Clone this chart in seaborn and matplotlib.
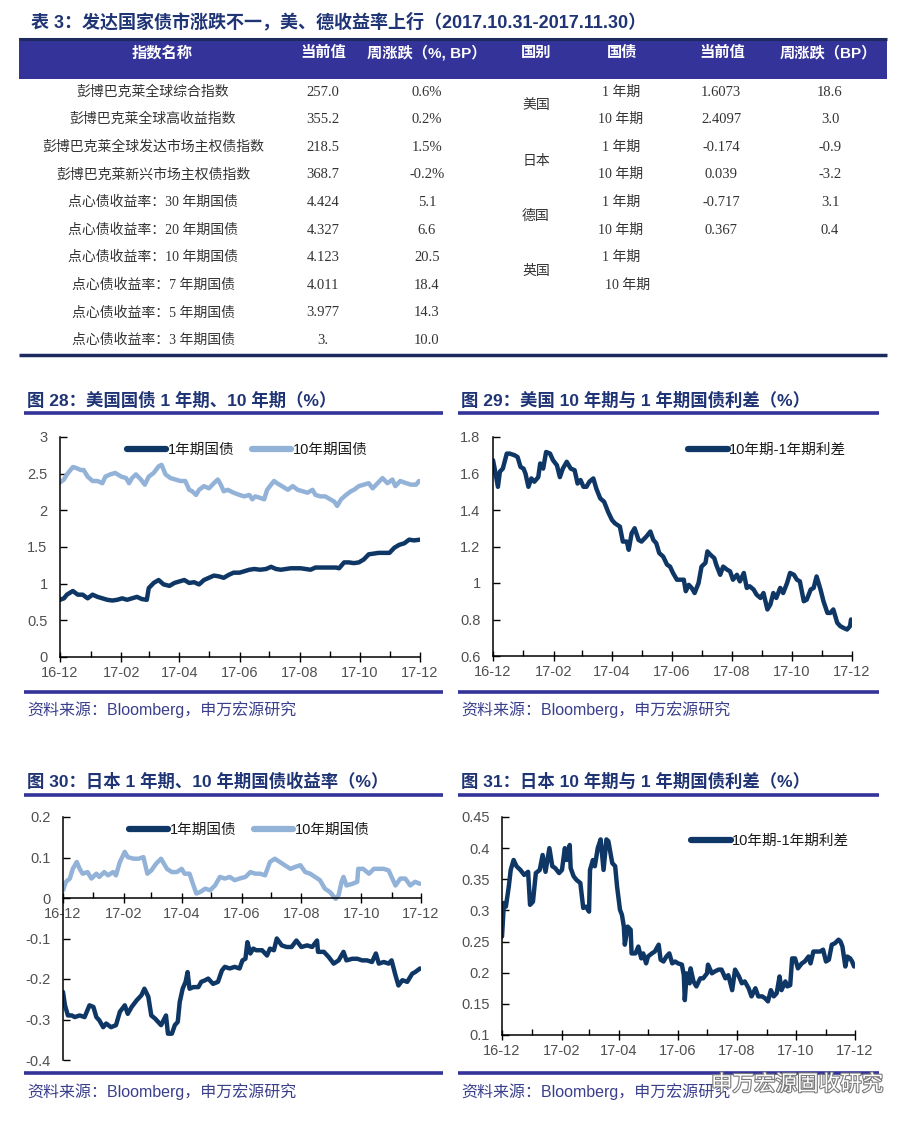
import numpy as np
import pandas as pd
import matplotlib
matplotlib.use('Agg')
import matplotlib.pyplot as plt
import matplotlib.dates as mdates
import matplotlib.patheffects as pe
from matplotlib.patches import Rectangle
from matplotlib.ticker import FuncFormatter, MultipleLocator
import seaborn as sns

# ---------------- table data ----------------
table_title = '表 3：发达国家债市涨跌不一，美、德收益率上行（2017.10.31-2017.11.30）'
left_headers = ['指数名称', '当前值', '周涨跌（%, BP）']
right_headers = ['国别', '国债', '当前值', '周涨跌（BP）']
index_names = ['彭博巴克莱全球综合指数', '彭博巴克莱全球高收益指数', '彭博巴克莱全球发达市场主权债指数',
               '彭博巴克莱新兴市场主权债指数', '点心债收益率：30 年期国债', '点心债收益率：20 年期国债',
               '点心债收益率：10 年期国债', '点心债收益率：7 年期国债', '点心债收益率：5 年期国债',
               '点心债收益率：3 年期国债']
index_values = ['257.0', '355.2', '218.5', '368.7', '4.424', '4.327', '4.123', '4.011', '3.977', '3.']
index_changes = ['0.6%', '0.2%', '1.5%', '-0.2%', '5.1', '6.6', '20.5', '18.4', '14.3', '10.0']
countries = ['美国', '日本', '德国', '英国']
tenors = ['1 年期', '10 年期']
bond_values = ['1.6073', '2.4097', '-0.174', '0.039', '-0.717', '0.367', '', '']
bond_changes = ['18.6', '3.0', '-0.9', '-3.2', '3.1', '0.4', '', '']

# ---------------- chart data (days since 2016-12-01) ----------------
us_1y_days = [0,4,7,13,18,23,28,33,38,43,48,53,58,63,68,73,78,83,88,90,95,100,105,111,116,121,126,131,136,141,
              146,151,156,161,166,171,176,182,187,192,197,203,209,214,219,224,229,234,239,244,249,254,259,264,269,
              274,280,283,288,293,298,303,308,313,318,323,329,334,339,344,349,354,359,365]
us_1y = [0.78,0.80,0.85,0.90,0.85,0.85,0.80,0.85,0.82,0.80,0.78,0.77,0.78,0.80,0.78,0.80,0.82,0.79,0.78,0.94,
         1.01,1.05,0.99,0.97,1.01,1.03,1.05,1.01,1.02,0.99,1.05,1.08,1.11,1.10,1.08,1.12,1.15,1.15,1.17,1.19,
         1.20,1.19,1.20,1.23,1.20,1.19,1.20,1.21,1.21,1.21,1.20,1.19,1.22,1.22,1.22,1.22,1.22,1.21,1.29,1.29,
         1.28,1.29,1.33,1.40,1.41,1.42,1.42,1.42,1.49,1.53,1.55,1.60,1.59,1.60]
us_10y_days = [0,4,7,13,16,21,24,28,33,38,43,46,51,56,62,67,70,73,77,82,86,90,95,100,103,107,112,117,122,127,
               131,134,138,141,146,151,156,160,163,166,170,173,176,182,187,192,195,198,203,207,210,214,217,220,
               225,231,236,241,246,251,256,259,264,269,274,278,281,285,290,295,298,303,308,313,317,322,327,332,
               337,340,345,351,356,361,364]
us_10y = [2.38,2.42,2.49,2.59,2.58,2.55,2.55,2.46,2.40,2.40,2.37,2.46,2.49,2.51,2.46,2.44,2.37,2.44,2.49,2.42,
          2.35,2.46,2.51,2.60,2.62,2.49,2.44,2.42,2.40,2.40,2.28,2.26,2.21,2.28,2.33,2.30,2.37,2.42,2.35,2.26,
          2.28,2.26,2.24,2.21,2.19,2.21,2.15,2.19,2.17,2.15,2.28,2.35,2.40,2.37,2.33,2.28,2.33,2.28,2.26,2.24,
          2.28,2.21,2.19,2.19,2.15,2.12,2.06,2.15,2.21,2.26,2.28,2.33,2.35,2.37,2.30,2.37,2.44,2.37,2.42,2.33,
          2.40,2.37,2.35,2.35,2.40]
us_spread_days = [0,2,5,7,10,14,17,22,25,28,31,33,36,39,42,46,48,51,54,58,61,65,68,71,75,79,83,86,89,92,
                  95,98,102,105,109,113,117,121,124,129,132,136,138,141,144,148,151,156,160,163,166,169,173,177,
                  180,183,187,190,194,196,199,202,205,209,212,216,218,221,225,227,231,234,238,241,244,248,251,
                  255,258,261,265,268,272,275,279,282,285,288,292,295,299,302,306,309,312,316,319,323,326,329,
                  333,336,340,343,346,350,353,356,360,363,364]
us_spread = [1.673,1.618,1.527,1.61,1.627,1.709,1.709,1.70,1.69,1.636,1.627,1.60,1.527,1.573,1.555,1.58,1.655,
             1.627,1.718,1.709,1.673,1.645,1.58,1.627,1.664,1.627,1.618,1.545,1.564,1.527,1.527,1.555,1.573,
             1.518,1.464,1.445,1.39,1.345,1.327,1.309,1.227,1.227,1.182,1.273,1.30,1.236,1.227,1.255,1.282,
             1.236,1.218,1.164,1.145,1.10,1.09,1.055,1.018,1.018,1.018,0.955,0.99,0.973,0.945,1.0,1.09,1.11,
             1.173,1.155,1.136,1.10,1.045,1.09,1.073,1.064,1.018,1.045,1.009,1.055,0.973,0.982,0.964,0.936,
             0.918,0.945,0.855,0.882,0.945,0.918,0.973,0.945,1.0,1.055,1.045,1.018,1.009,0.90,0.909,0.964,
             0.973,1.036,0.964,0.90,0.836,0.836,0.855,0.782,0.764,0.755,0.745,0.764,0.80]
jp_10y_days = [0,3,7,10,14,17,20,25,29,34,37,42,46,51,54,58,63,66,72,77,82,86,90,95,100,106,111,116,121,124,
               129,133,136,140,145,150,155,160,165,170,175,180,186,191,196,201,206,211,216,221,226,232,237,242,
               247,252,257,262,267,272,278,281,284,286,289,295,300,301,306,312,317,322,327,332,335,339,344,349,
               354,359,364]
jp_10y = [0.019,0.04,0.048,0.072,0.089,0.072,0.06,0.064,0.048,0.06,0.052,0.064,0.056,0.064,0.056,0.089,0.114,
          0.101,0.097,0.097,0.101,0.06,0.068,0.085,0.097,0.072,0.064,0.064,0.072,0.06,0.06,0.031,0.011,0.015,
          0.023,0.019,0.031,0.052,0.048,0.052,0.044,0.048,0.052,0.064,0.06,0.06,0.056,0.089,0.097,0.089,0.081,
          0.072,0.077,0.081,0.064,0.06,0.052,0.044,0.023,0.015,-0.002,0.007,0.04,0.052,0.031,0.035,0.04,0.072,
          0.072,0.06,0.072,0.072,0.072,0.068,0.052,0.031,0.048,0.048,0.031,0.04,0.035]
jp_1y_days = [0,2,5,9,12,17,22,27,31,34,37,41,44,49,54,58,63,66,70,75,80,83,87,90,94,97,100,105,107,111,
              114,117,119,122,125,127,129,133,138,141,145,148,153,158,162,165,170,175,180,183,186,188,191,194,
              197,203,208,211,215,218,223,228,233,238,243,249,254,259,260,266,271,276,281,286,289,295,300,305,
              310,315,319,322,327,332,335,339,342,346,351,356,359,364]
jp_1y = [-0.232,-0.265,-0.29,-0.29,-0.294,-0.29,-0.294,-0.265,-0.269,-0.294,-0.302,-0.319,-0.31,-0.319,-0.314,
         -0.281,-0.265,-0.286,-0.269,-0.253,-0.24,-0.224,-0.244,-0.29,-0.298,-0.306,-0.314,-0.29,-0.335,-0.335,
         -0.314,-0.306,-0.257,-0.224,-0.207,-0.183,-0.224,-0.22,-0.22,-0.207,-0.203,-0.199,-0.212,-0.207,-0.179,
         -0.17,-0.174,-0.17,-0.174,-0.154,-0.15,-0.109,-0.137,-0.125,-0.129,-0.129,-0.142,-0.125,-0.129,-0.10,
         -0.117,-0.121,-0.121,-0.105,-0.121,-0.117,-0.121,-0.105,-0.133,-0.133,-0.146,-0.162,-0.154,-0.133,
         -0.154,-0.15,-0.15,-0.154,-0.154,-0.158,-0.137,-0.162,-0.158,-0.162,-0.154,-0.191,-0.216,-0.203,-0.207,
         -0.187,-0.183,-0.174]
jp_spread_days = [0,2,4,7,9,12,15,19,23,27,29,32,35,39,42,45,49,52,55,59,62,65,67,70,71,74,77,81,84,87,
                  90,91,94,96,99,102,105,108,110,114,117,119,122,124,126,127,130,133,134,138,141,144,146,149,
                  151,155,158,162,164,167,170,173,176,179,182,186,188,189,191,194,195,198,201,205,208,212,213,
                  217,220,224,227,231,234,238,241,245,248,251,255,258,262,265,269,272,275,278,281,284,287,289,
                  293,295,298,300,303,306,310,313,317,319,322,325,329,332,335,338,341,344,348,350,352,355,357,
                  360,362,364]
jp_spread = [0.258,0.312,0.306,0.338,0.365,0.381,0.371,0.365,0.357,0.362,0.309,0.314,0.36,0.365,0.389,0.362,
             0.40,0.371,0.368,0.36,0.365,0.40,0.381,0.405,0.368,0.355,0.349,0.344,0.304,0.306,0.298,0.365,
             0.381,0.371,0.40,0.414,0.365,0.414,0.411,0.376,0.371,0.338,0.301,0.293,0.274,0.245,0.274,0.269,
             0.231,0.231,0.242,0.223,0.231,0.215,0.226,0.231,0.234,0.245,0.221,0.218,0.226,0.231,0.215,0.218,
             0.215,0.213,0.196,0.156,0.199,0.183,0.207,0.186,0.178,0.191,0.191,0.199,0.213,0.199,0.202,0.205,
             0.205,0.191,0.196,0.172,0.205,0.194,0.183,0.186,0.175,0.162,0.175,0.162,0.162,0.159,0.154,0.172,
             0.162,0.167,0.194,0.172,0.186,0.178,0.180,0.223,0.223,0.207,0.215,0.218,0.226,0.215,0.234,0.234,
             0.234,0.237,0.218,0.221,0.245,0.247,0.253,0.25,0.242,0.21,0.226,0.223,0.218,0.21]

START = pd.Timestamp('2016-12-01')
END = pd.Timestamp('2017-12-01')


def to_dates(days):
    return START + pd.to_timedelta(np.array(days), unit='D')


# ---------------- style ----------------
sns.set_theme(style='ticks')
plt.rcParams['font.family'] = ['Liberation Sans', 'Noto Sans CJK SC', 'DejaVu Sans']
plt.rcParams['axes.unicode_minus'] = False

DARK = '#0f3766'
LIGHT = '#93b2d8'
NAVY_T = '#1f3474'
BAND = '#333399'
TICKC = '#505050'

W, H = 913, 1126
fig = plt.figure(figsize=(W / 100, H / 100), dpi=100)
fig.patch.set_facecolor('white')

ov = fig.add_axes([0, 0, 1, 1])
ov.set_xlim(0, W)
ov.set_ylim(H, 0)
ov.axis('off')

# ---------------- table ----------------
ov.text(31, 22, table_title, fontsize=13, weight='bold', color=NAVY_T, va='center', ha='left')
ov.add_patch(Rectangle((19, 38), 868, 41, facecolor=BAND, edgecolor='none'))
ov.plot([19, 887], [39, 39], color='#1c2a5e', lw=2.2, solid_capstyle='butt')
hdr_x = [162, 323, 427, 536, 622, 722, 828]
for hx, ht in zip(hdr_x, left_headers + right_headers):
    ov.text(hx, 53, ht, fontsize=11, weight='bold', color='white', ha='center', va='center')

BODY = '#333333'
serif = ['Liberation Serif', 'Noto Sans CJK SC']
row_y0, row_dy = 92, 27.6
for i, (nm, v, c) in enumerate(zip(index_names, index_values, index_changes)):
    y = row_y0 + i * row_dy
    ov.text(153, y, nm, fontsize=10, color=BODY, ha='center', va='center', family=serif)
    ov.text(323, y, v, fontsize=10.5, color=BODY, ha='center', va='center', family=serif)
    ov.text(427, y, c, fontsize=10.5, color=BODY, ha='center', va='center', family=serif)
for k, ctry in enumerate(countries):
    yc = row_y0 + (2 * k + 0.5) * row_dy
    ov.text(536, yc, ctry, fontsize=10, color=BODY, ha='center', va='center', family=serif)
    for j, tn in enumerate(tenors):
        idx = 2 * k + j
        y = row_y0 + idx * row_dy
        tx = 628 if idx == 7 else 621
        ov.text(tx, y, tn, fontsize=10, color=BODY, ha='center', va='center', family=serif)
        ov.text(721, y, bond_values[idx], fontsize=10.5, color=BODY, ha='center', va='center', family=serif)
        ov.text(830, y, bond_changes[idx], fontsize=10.5, color=BODY, ha='center', va='center', family=serif)
ov.plot([19, 887], [355, 355], color='#1c2a5e', lw=2.5, solid_capstyle='butt')

# ---------------- panel frames ----------------
SRC = '资料来源：Bloomberg，申万宏源研究'
panels = [
    (27, 24, 443, 400, 413, 692, 710, '图 28：美国国债 1 年期、10 年期（%）'),
    (461, 458, 879, 400, 413, 692, 710, '图 29：美国 10 年期与 1 年期国债利差（%）'),
    (27, 24, 443, 781, 795, 1073, 1092, '图 30：日本 1 年期、10 年期国债收益率（%）'),
    (461, 458, 879, 781, 795, 1073, 1092, '图 31：日本 10 年期与 1 年期国债利差（%）'),
]
for tx, lx, rx, ty, uy, by, sy, ttl in panels:
    ov.text(tx, ty, ttl, fontsize=12.5, weight='bold', color=NAVY_T, ha='left', va='center')
    ov.plot([lx, rx], [uy, uy], color=BAND, lw=2.6, solid_capstyle='butt')
    ov.plot([lx, rx], [by, by], color=BAND, lw=2.6, solid_capstyle='butt')
    ov.text(tx, sy, SRC, fontsize=11.5, color='#3a3f8c', ha='left', va='center')

ov.text(797, 1085, '申万宏源固收研究', fontsize=15.5, color='white', ha='center', va='center',
        path_effects=[pe.withStroke(linewidth=1.6, foreground='#7a7a7a')])


def ax_at(l, t, r, b):
    return fig.add_axes([l / W, 1 - b / H, (r - l) / W, (b - t) / H])


def style_axis(ax, ylo, yhi, ystep):
    ax.set_xlim(START, END)
    ax.set_ylim(ylo, yhi)
    ax.yaxis.set_major_locator(MultipleLocator(ystep))
    ax.yaxis.set_major_formatter(FuncFormatter(lambda v, p: f'{round(v, 3):g}'))
    ax.xaxis.set_major_locator(mdates.MonthLocator(bymonth=[12, 2, 4, 6, 8, 10]))
    ax.xaxis.set_minor_locator(mdates.MonthLocator())
    ax.xaxis.set_major_formatter(mdates.DateFormatter('%y-%m'))
    for s in ['top', 'right']:
        ax.spines[s].set_visible(False)
    for s in ['left', 'bottom']:
        ax.spines[s].set_color('black')
        ax.spines[s].set_linewidth(1.1)
    ax.tick_params(axis='y', direction='in', length=5, width=1, color='black',
                   labelcolor=TICKC, labelsize=10.5, pad=9)
    ax.tick_params(axis='x', which='major', direction='inout', length=7, width=1, color='black',
                   labelcolor=TICKC, labelsize=10.5, pad=3)
    ax.tick_params(axis='x', which='minor', direction='in', length=4, width=1, color='black')
    ax.set_xlabel('')
    ax.set_ylabel('')
    ax.grid(False)
    ax.patch.set_alpha(0)


def add_legend(ax, loc, anchor, ncol):
    leg = ax.legend(loc=loc, bbox_to_anchor=anchor, ncol=ncol, frameon=False, fontsize=10.5,
                    handlelength=2.7, handletextpad=0.1, columnspacing=1.2, borderaxespad=0)
    for h in leg.get_lines():
        h.set_linewidth(4.5)
    for t in leg.get_texts():
        t.set_color('#1a1a1a')


# chart 28
a28 = ax_at(60, 437, 420, 657)
sns.lineplot(x=to_dates(us_1y_days), y=us_1y, ax=a28, color=DARK, lw=3.2, label='1年期国债')
sns.lineplot(x=to_dates(us_10y_days), y=us_10y, ax=a28, color=LIGHT, lw=3.2, label='10年期国债')
style_axis(a28, 0, 3, 0.5)
add_legend(a28, 'upper center', (0.52, 1.0), 2)

# chart 29
a29 = ax_at(493, 437, 852, 656)
sns.lineplot(x=to_dates(us_spread_days), y=us_spread, ax=a29, color=DARK, lw=3.2, label='10年期-1年期利差')
style_axis(a29, 0.6, 1.8, 0.2)
add_legend(a29, 'upper right', (1.0, 1.0), 1)

# chart 30
a30 = ax_at(63, 817, 421, 1060)
sns.lineplot(x=to_dates(jp_1y_days), y=jp_1y, ax=a30, color=DARK, lw=3.2, label='1年期国债')
sns.lineplot(x=to_dates(jp_10y_days), y=jp_10y, ax=a30, color=LIGHT, lw=3.2, label='10年期国债')
style_axis(a30, -0.4, 0.2, 0.1)
a30.spines['bottom'].set_position(('data', 0))
add_legend(a30, 'upper center', (0.52, 1.0), 2)

# chart 31
a31 = ax_at(502, 817, 855, 1035)
sns.lineplot(x=to_dates(jp_spread_days), y=jp_spread, ax=a31, color=DARK, lw=3.2, label='10年期-1年期利差')
style_axis(a31, 0.1, 0.45, 0.05)
add_legend(a31, 'upper right', (1.0, 0.95), 1)

fig.savefig('out.png', dpi=100, facecolor='white')
